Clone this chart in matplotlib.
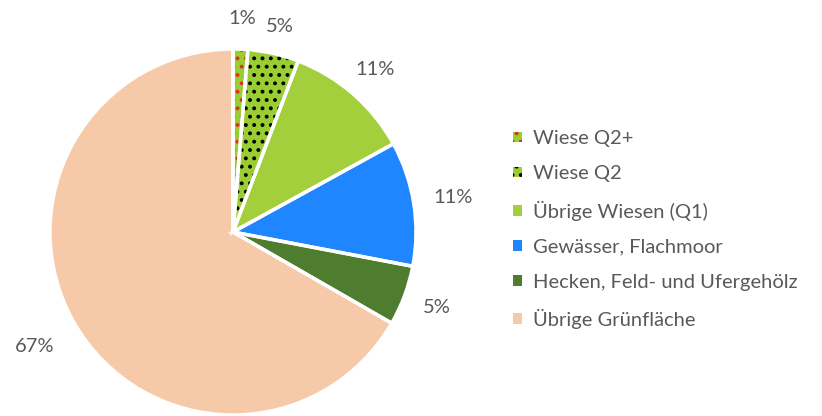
import numpy as np
import matplotlib.pyplot as plt
from matplotlib.patches import Patch

labels = ['Wiese Q2+', 'Wiese Q2', 'Übrige Wiesen (Q1)', 'Gewässer, Flachmoor',
          'Hecken, Feld- und Ufergehölz', 'Übrige Grünfläche']
values = [1.3, 4.5, 11.2, 11.0, 5.3, 66.7]
pct_text = ['1%', '5%', '11%', '11%', '5%', '67%']
colors = ['#9acd32', '#9acd32', '#a4cf3c', '#1f86ff', '#4f7d2f', '#f6c9a8']
hatches = ['..', '..', None, None, None, None]
hatch_colors = ['#e0301e', '#000000', '#a4cf3c', '#1f86ff', '#4f7d2f', '#f6c9a8']

plt.rcParams['font.family'] = ['Lato', 'DejaVu Sans']
plt.rcParams['hatch.linewidth'] = 1.6

fig = plt.figure(figsize=(8.22, 4.16), dpi=100)
ax = fig.add_axes([50 / 822, 1 / 416, 366 / 822, 366 / 416])

wedges, _ = ax.pie(values, colors=colors, startangle=90, counterclock=False,
                   radius=1, wedgeprops=dict(linewidth=0))
for w, h, hc in zip(wedges, hatches, hatch_colors):
    w.set_edgecolor(hc)
    if h:
        w.set_hatch(h)

# white separators on top
ax.pie(values, colors=['none'] * len(values), startangle=90, counterclock=False,
       radius=1, wedgeprops=dict(linewidth=2.5, edgecolor='white'))

# percentage labels
cum = np.cumsum([0] + values[:-1])
dist = [1.17, 1.15, 1.18, 1.22, 1.19, 1.25]
for c, v, t, d in zip(cum, values, pct_text, dist):
    ang = np.deg2rad(90 - (c + v / 2) * 3.6)
    ax.text(d * np.cos(ang), d * np.sin(ang), t, ha='center', va='center',
            fontsize=14.5, color='#595959')

ax.set_xlim(-1, 1)
ax.set_ylim(-1, 1)
ax.set_aspect('equal')
ax.axis('off')

handles = [Patch(facecolor=c, edgecolor=hc, hatch=h, linewidth=0)
           for c, h, hc in zip(colors, hatches, hatch_colors)]
fig.legend(handles, labels, loc='upper left', bbox_to_anchor=(495 / 822, 1 - 112 / 416),
           frameon=False, fontsize=14.5, labelcolor='#595959',
           handlelength=0.45, handleheight=0.45, handletextpad=0.55, labelspacing=0.9)

fig.savefig('out.png', dpi=100)
